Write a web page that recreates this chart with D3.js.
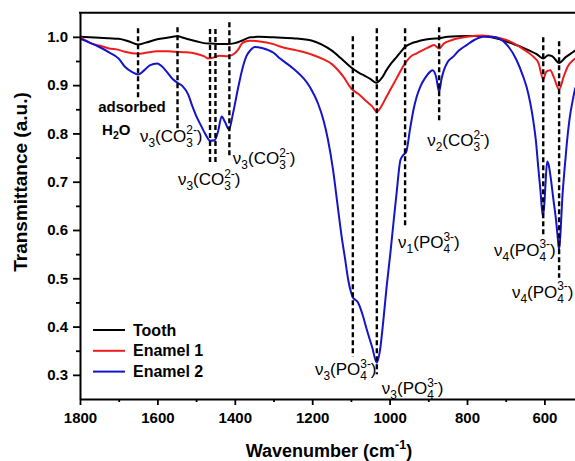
<!DOCTYPE html>
<html>
<head>
<meta charset="utf-8">
<script src="https://cdn.jsdelivr.net/npm/d3@7/dist/d3.min.js"></script>
<style>
  html, body { margin: 0; padding: 0; background: #fff; }
  svg { display: block; }
  text { font-family: "Liberation Sans", Arial, sans-serif; fill: #000; }
</style>
</head>
<body>
<svg id="chart" width="575" height="461"></svg>
<script>
// FTIR spectra: transmittance vs wavenumber (cm-1)
const toothWn = [1800,1775,1750,1725,1700,1675,1650,1630,1600,1575,1550,1525,1500,1480,1460,1440,1420,1400,1382,1360,1340,1300,1250,1200,1175,1150,1125,1100,1080,1068,1050,1035,1020,1008,995,982,970,960,945,930,910,890,872,850,800,760,720,700,680,660,640,620,603,590,580,562,545,525,520];
const toothT  = [1.000,0.999,0.998,0.997,0.996,0.991,0.984,0.988,0.995,0.998,1.001,0.996,0.991,0.987,0.986,0.985,0.985,0.987,0.992,0.999,1.000,0.999,0.997,0.992,0.984,0.972,0.955,0.937,0.926,0.921,0.913,0.905,0.915,0.931,0.946,0.958,0.970,0.979,0.986,0.990,0.994,0.996,0.997,1.000,1.002,1.002,0.996,0.991,0.985,0.979,0.972,0.964,0.955,0.962,0.960,0.946,0.958,0.969,0.972];

const enamel1Wn = [1800,1770,1750,1725,1700,1684,1665,1649,1630,1600,1575,1555,1525,1500,1480,1468,1455,1440,1417,1400,1390,1382,1370,1361,1340,1300,1283,1240,1200,1175,1150,1120,1098,1081,1059,1045,1033,1020,1008,995,982,970,960,947,930,910,895,885,872,860,840,800,760,720,700,680,650,630,615,603,595,585,575,562,550,540,525,520];
const enamel1T  = [1.000,0.986,0.982,0.976,0.973,0.969,0.966,0.965,0.967,0.970,0.970,0.969,0.968,0.965,0.960,0.955,0.957,0.961,0.960,0.966,0.975,0.986,0.991,0.992,0.991,0.985,0.980,0.972,0.963,0.955,0.944,0.918,0.892,0.882,0.866,0.856,0.845,0.858,0.876,0.895,0.914,0.932,0.945,0.958,0.966,0.974,0.980,0.983,0.976,0.986,0.993,1.000,1.003,0.998,0.994,0.987,0.972,0.960,0.945,0.912,0.928,0.931,0.915,0.891,0.918,0.938,0.952,0.955];

const enamel2Wn = [1800,1775,1750,1725,1700,1684,1665,1650,1635,1620,1600,1590,1575,1560,1548,1535,1520,1510,1500,1486,1475,1464,1452,1443,1434,1425,1415,1405,1391,1380,1370,1360,1348,1330,1300,1283,1250,1206,1185,1171,1160,1146,1135,1124,1115,1107,1100,1094,1088,1081,1070,1059,1045,1033,1025,1016,1008,998,990,982,972,965,957,947,938,930,920,909,895,889,880,872,866,860,850,837,820,801,780,758,735,715,695,672,655,646,637,629,622,616,610,604,600,597,593,589,584,577,570,565,562,558,554,548,542,535,525,520];
const enamel2T  = [0.996,0.988,0.979,0.968,0.955,0.938,0.927,0.922,0.930,0.941,0.945,0.940,0.927,0.912,0.905,0.898,0.880,0.857,0.837,0.814,0.797,0.785,0.786,0.805,0.835,0.823,0.808,0.840,0.896,0.935,0.960,0.972,0.979,0.977,0.967,0.955,0.935,0.896,0.862,0.828,0.790,0.724,0.655,0.587,0.540,0.497,0.472,0.459,0.455,0.449,0.425,0.394,0.357,0.325,0.350,0.414,0.480,0.552,0.615,0.676,0.745,0.755,0.762,0.810,0.850,0.876,0.898,0.914,0.928,0.931,0.918,0.886,0.912,0.930,0.948,0.958,0.972,0.983,0.994,1.000,1.000,0.996,0.982,0.952,0.918,0.896,0.865,0.828,0.785,0.731,0.680,0.628,0.655,0.697,0.742,0.735,0.710,0.665,0.621,0.580,0.559,0.600,0.662,0.725,0.780,0.830,0.876,0.895];

const seriesNames  = ["Tooth", "Enamel 1", "Enamel 2"];
const seriesColors = ["#000000", "#ee1c1c", "#1414c8"];

// band assignments: wavenumber and vertical extent of each dashed marker
const bandWn     = [1650, 1548, 1464, 1450, 1414, 1095, 1033, 960, 872, 603, 562];
const bandTop    = [1.018, 1.020, 1.016, 1.016, 1.030, 1.001, 1.018, 1.018, 1.020, 0.999, 0.991];
const bandBottom = [0.869, 0.803, 0.735, 0.735, 0.749, 0.338, 0.301, 0.605, 0.824, 0.590, 0.501];

// band labels: [mode index, ion, ion subscript, charge, anchor wavenumber, anchor transmittance]
const bandLabels = [
  ["3", "CO", "3", "2-", 1645, 0.783],
  ["3", "CO", "3", "2-", 1547, 0.693],
  ["3", "CO", "3", "2-", 1405, 0.736],
  ["2", "CO", "3", "2-", 903, 0.774],
  ["1", "PO", "4", "3-", 978, 0.563],
  ["4", "PO", "4", "3-", 730, 0.547],
  ["4", "PO", "4", "3-", 684, 0.460],
  ["3", "PO", "4", "3-", 1193, 0.299],
  ["3", "PO", "4", "3-", 1020, 0.260]
];

const xMajor = [1800, 1600, 1400, 1200, 1000, 800, 600];
const xMinor = [1700, 1500, 1300, 1100, 900, 700, 500];
const yMajor = [0.3, 0.4, 0.5, 0.6, 0.7, 0.8, 0.9, 1.0];
const yMinor = [0.35, 0.45, 0.55, 0.65, 0.75, 0.85, 0.95];

const svg = d3.select("#chart");
const plotLeft = 80, plotTop = 12.7, plotBottom = 399;

const x = d3.scaleLinear().domain([1800, 500]).range([plotLeft, plotLeft + 1300 * 0.387]);
const y = d3.scaleLinear().domain([0.25, 1.05]).range([plotBottom, plotTop]);

const plotRight = x(500);

// clip for curves
svg.append("defs").append("clipPath").attr("id", "plotClip")
  .append("rect").attr("x", plotLeft).attr("y", plotTop)
  .attr("width", plotRight - plotLeft).attr("height", plotBottom - plotTop);

const line = d3.line().x(d => x(d[0])).y(d => y(d[1])).curve(d3.curveMonotoneX);

const curves = svg.append("g").attr("clip-path", "url(#plotClip)");
[[toothWn, toothT], [enamel1Wn, enamel1T], [enamel2Wn, enamel2T]].forEach((s, i) => {
  curves.append("path")
    .datum(s[0].map((w, k) => [w, s[1][k]]))
    .attr("fill", "none")
    .attr("stroke", seriesColors[i])
    .attr("stroke-width", 2)
    .attr("stroke-linejoin", "round")
    .attr("d", line);
});

// dashed band markers
const marks = svg.append("g");
bandWn.forEach((w, i) => {
  marks.append("line")
    .attr("x1", x(w)).attr("x2", x(w))
    .attr("y1", y(bandTop[i])).attr("y2", y(bandBottom[i]))
    .attr("stroke", "#000").attr("stroke-width", 2.4)
    .attr("stroke-dasharray", "5,3");
});

// axes
function styleAxis(g) {
  g.select(".domain").attr("stroke-width", 2);
  g.selectAll(".tick line").attr("stroke-width", 1.8);
  g.selectAll("text").attr("font-size", 15).attr("font-weight", "bold")
    .attr("font-family", "'Liberation Sans', Arial, sans-serif");
}

svg.append("g").attr("transform", `translate(0,${plotBottom})`)
  .call(d3.axisBottom(x).tickValues(xMinor).tickSize(3).tickFormat(""))
  .call(g => g.select(".domain").remove())
  .call(g => g.selectAll(".tick line").attr("stroke-width", 1.8));
svg.append("g").attr("transform", `translate(0,${plotBottom})`)
  .call(d3.axisBottom(x).tickValues(xMajor).tickSize(6).tickSizeOuter(0).tickPadding(7).tickFormat(d3.format("d")))
  .call(styleAxis);

svg.append("g").attr("transform", `translate(${plotLeft},0)`)
  .call(d3.axisLeft(y).tickValues(yMinor).tickSize(4).tickFormat(""))
  .call(g => g.select(".domain").remove())
  .call(g => g.selectAll(".tick line").attr("stroke-width", 1.8));
svg.append("g").attr("transform", `translate(${plotLeft},0)`)
  .call(d3.axisLeft(y).tickValues(yMajor).tickSize(7).tickSizeOuter(0).tickPadding(5).tickFormat(d3.format(".1f")))
  .call(styleAxis);

// top and right frame
svg.append("line").attr("x1", plotLeft - 1).attr("x2", plotRight).attr("y1", plotTop).attr("y2", plotTop)
  .attr("stroke", "#000").attr("stroke-width", 2);
svg.append("line").attr("x1", plotRight).attr("x2", plotRight).attr("y1", plotTop).attr("y2", plotBottom)
  .attr("stroke", "#000").attr("stroke-width", 2);

// text with stacked sub/superscripts
function richText(parent, px, py, segs, size, weight) {
  const t = parent.append("text").attr("x", px).attr("y", py)
    .attr("font-size", size).attr("font-weight", weight || "normal");
  const small = size * 0.7, subDy = size * 0.3, supDy = -size * 0.42;
  let shift = 0;
  segs.forEach(s => {
    if (typeof s === "string") {
      t.append("tspan").attr("dy", -shift).text(s);
      shift = 0;
    } else {
      let subW = 0;
      if (s.sub !== undefined) {
        const sp = t.append("tspan").attr("font-size", small).attr("dy", subDy - shift).text(s.sub);
        shift = subDy;
        subW = sp.node().getComputedTextLength();
      }
      if (s.sup !== undefined) {
        const sp = t.append("tspan").attr("font-size", small).attr("dy", supDy - shift).text(s.sup);
        if (subW) sp.attr("dx", -subW);
        shift = supDy;
      }
    }
  });
  return t;
}

const labels = svg.append("g");
bandLabels.forEach(b => {
  richText(labels, x(b[4]), y(b[5]),
    ["ν", {sub: b[0]}, "(" + b[1], {sub: b[2], sup: b[3]}, ")"], 17, "normal");
});
richText(labels, x(1753), y(0.844), ["adsorbed"], 15, "bold");
richText(labels, x(1743), y(0.797), ["H", {sub: "2"}, "O"], 15, "bold");

// legend
const legend = svg.append("g");
seriesNames.forEach((n, i) => {
  const ly = 330 + i * 20.8;
  legend.append("line").attr("x1", 93).attr("x2", 125).attr("y1", ly).attr("y2", ly)
    .attr("stroke", seriesColors[i]).attr("stroke-width", 2);
  legend.append("text").attr("x", 133).attr("y", ly + 5.5)
    .attr("font-size", 16).attr("font-weight", "bold").text(n);
});

// axis titles
const xt = richText(svg, 329, 457, ["Wavenumber (cm", {sup: "-1"}, ")"], 18, "bold");
xt.attr("text-anchor", "middle");
svg.append("text")
  .attr("transform", "translate(27,182) rotate(-90)")
  .attr("text-anchor", "middle")
  .attr("font-size", 19).attr("font-weight", "bold")
  .text("Transmittance (a.u.)");
</script>
</body>
</html>
